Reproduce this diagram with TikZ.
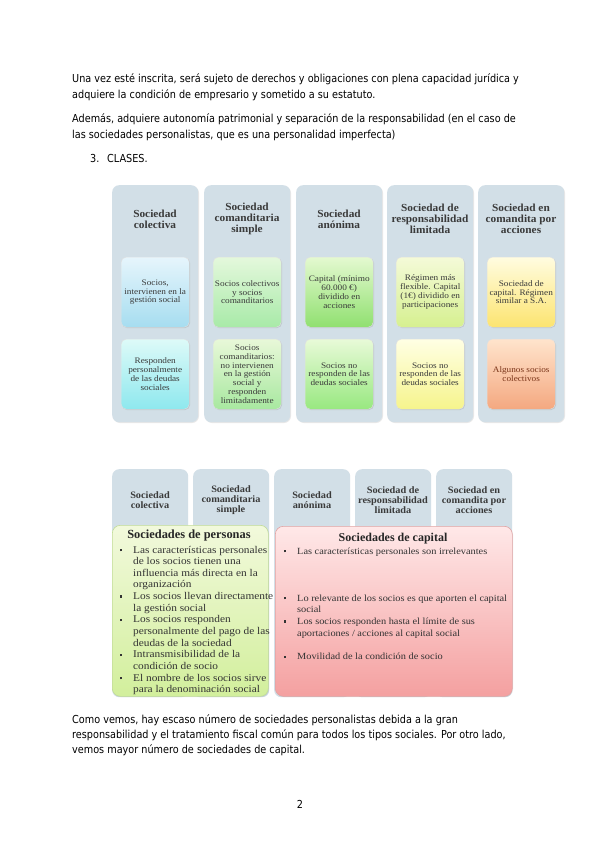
\documentclass[tikz,border=0pt]{standalone}
\usepackage{fontspec}
\setmainfont{Liberation Serif}
\newfontfamily\bodyfont[FakeStretch=0.88]{DejaVu Sans}
\newfontfamily\dserif[FakeStretch=1.1]{Liberation Serif}
\newfontfamily\hserif[FakeStretch=1.05]{Liberation Serif}
\usetikzlibrary{shadows}
\definecolor{colbg}{HTML}{D2DFE7}
\definecolor{txt}{HTML}{3A3A3A}
\definecolor{c1at}{HTML}{E6F5FC}\definecolor{c1ab}{HTML}{A6DDF0}
\definecolor{c1bt}{HTML}{DDFAF8}\definecolor{c1bb}{HTML}{8EE8EE}
\definecolor{c2at}{HTML}{E4F8DC}\definecolor{c2ab}{HTML}{A8EAA8}
\definecolor{c2bt}{HTML}{E8F8D8}\definecolor{c2bb}{HTML}{A8E8A0}
\definecolor{c3at}{HTML}{E4F9D0}\definecolor{c3ab}{HTML}{90E070}
\definecolor{c3bt}{HTML}{E8FAD8}\definecolor{c3bb}{HTML}{98E880}
\definecolor{c4at}{HTML}{F4FAD8}\definecolor{c4ab}{HTML}{D6F090}
\definecolor{c4bt}{HTML}{FFFFE4}\definecolor{c4bb}{HTML}{F6F48C}
\definecolor{c5at}{HTML}{FFFCE0}\definecolor{c5ab}{HTML}{FCE470}
\definecolor{c5bt}{HTML}{FFE4CC}\definecolor{c5bb}{HTML}{F4A880}
\definecolor{brn}{HTML}{7A3418}
\definecolor{grt}{HTML}{F2F9DC}\definecolor{grb}{HTML}{D2EF9C}\definecolor{grd}{HTML}{C2DC98}
\definecolor{rdt}{HTML}{FFE8E8}\definecolor{rdb}{HTML}{F4A0A0}\definecolor{rdd}{HTML}{E0A4A4}
\newcommand{\bul}{\makebox[0pt][r]{\raisebox{1.7pt}{\rule{2.5pt}{2.5pt}}\hspace{11pt}}}
\begin{document}
\begin{tikzpicture}[x=1pt,y=-1pt,
  body/.style={font=\bodyfont\fontsize{11}{16}\selectfont, anchor=base west, inner sep=0pt, text=black},
  colbox/.style={fill=colbg, rounded corners=7pt, anchor=north west, minimum width=86pt, minimum height=237pt, inner sep=0pt,
    drop shadow={opacity=0.18, shadow xshift=0.8pt, shadow yshift=-0.8pt}},
  colboxb/.style={fill=colbg, rounded corners=7pt, anchor=north west, minimum width=76pt, minimum height=228pt, inner sep=0pt},
  hdr/.style={font=\hserif\bfseries\fontsize{10.8}{10.8}\selectfont, align=center, text=txt, inner sep=0pt},
  hdrb/.style={font=\hserif\bfseries\fontsize{9.8}{10}\selectfont, align=center, text=txt, inner sep=0pt},
  ibox/.style={rounded corners=5pt, anchor=north west, minimum width=68pt, minimum height=70pt, inner sep=1pt,
    draw=black!12, line width=0.4pt, align=center, text=txt, font=\dserif\fontsize{8.4}{8.9}\selectfont,
    drop shadow={opacity=0.25, shadow xshift=0.8pt, shadow yshift=-0.8pt}},
  bigbox/.style={rounded corners=8pt, anchor=north west, inner sep=0pt, line width=0.6pt,
    drop shadow={opacity=0.15, shadow xshift=0.8pt, shadow yshift=-0.8pt}},
  ttl/.style={font=\bfseries\fontsize{12.4}{13}\selectfont, anchor=base, inner sep=0pt, text=black!85},
  lst/.style={anchor=base west, inner sep=0pt, text=black!80}
]
\useasboundingbox (0,0) rectangle (600,848);
\fill[white] (0,0) rectangle (600,848);

% body text
\node[body] (p1a) at (72,83) {Una vez esté inscrita, será sujeto de derechos y obligaciones con plena capacidad jurídica y};
\node[body] (p1b) at (72,99) {adquiere la condición de empresario y sometido a su estatuto.};
\node[body] (p2a) at (72,123) {Además, adquiere autonomía patrimonial y separación de la responsabilidad (en el caso de};
\node[body] (p2b) at (72,139) {las sociedades personalistas, que es una personalidad imperfecta)};
\node[body] (n3) at (90,162) {3.};
\node[body] (cl) at (107,162) {CLASES.};

% top diagram columns
\foreach \i/\x in {1/112,2/204,3/296,4/387,5/478}{
  \node[colbox] (k\i) at (\x,185) {};
}
\node[hdr] (h1) at (155,219) {Sociedad\\colectiva};
\node[hdr] (h2) at (247,219) {Sociedad\\comanditaria\\simple};
\node[hdr] (h3) at (339,219) {Sociedad\\anónima};
\node[hdr] (h4) at (430,219) {Sociedad de\\responsabilidad\\limitada};
\node[hdr] (h5) at (521,219) {Sociedad en\\comandita por\\acciones};

\node[ibox, top color=c1at, bottom color=c1ab] (b1a) at (121,257) {Socios,\\intervienen en la\\gestión social};
\node[ibox, top color=c1bt, bottom color=c1bb] (b1b) at (121,339) {Responden\\personalmente\\de las deudas\\sociales};
\node[ibox, top color=c2at, bottom color=c2ab] (b2a) at (213,257) {Socios colectivos\\y socios\\comanditarios};
\node[ibox, top color=c2bt, bottom color=c2bb] (b2b) at (213,339) {Socios\\comanditarios:\\no intervienen\\en la gestión\\social y\\responden\\limitadamente};
\node[ibox, top color=c3at, bottom color=c3ab] (b3a) at (305,257) {Capital (mínimo\\60.000 €)\\dividido en\\acciones};
\node[ibox, top color=c3bt, bottom color=c3bb] (b3b) at (305,339) {Socios no\\responden de las\\deudas sociales};
\node[ibox, top color=c4at, bottom color=c4ab] (b4a) at (396,257) {Régimen más\\flexible. Capital\\(1€)  dividido en\\participaciones};
\node[ibox, top color=c4bt, bottom color=c4bb] (b4b) at (396,339) {Socios no\\responden de las\\deudas sociales};
\node[ibox, top color=c5at, bottom color=c5ab] (b5a) at (487,257) {Sociedad de\\capital. Régimen\\similar a S.A.};
\node[ibox, top color=c5bt, bottom color=c5bb, text=brn] (b5b) at (487,339) {Algunos socios\\colectivos};

% second diagram
\foreach \i/\x in {1/112,2/193,3/274,4/355,5/436}{
  \node[colboxb] (m\i) at (\x,469) {};
}
\node[hdrb] (g1) at (150,500) {Sociedad\\colectiva};
\node[hdrb] (g2) at (231,500) {Sociedad\\comanditaria\\simple};
\node[hdrb] (g3) at (312,500) {Sociedad\\anónima};
\node[hdrb] (g4) at (393,500) {Sociedad de\\responsabilidad\\limitada};
\node[hdrb] (g5) at (474,500) {Sociedad en\\comandita por\\acciones};

\node[bigbox, top color=grt, bottom color=grb, draw=grd, minimum width=156pt, minimum height=171pt] (gp) at (112,525) {};
\node[bigbox, top color=rdt, bottom color=rdb, draw=rdd, minimum width=237pt, minimum height=170pt] (rc) at (275,526) {};

\node[ttl] (tgp) at (189,538) {Sociedades de personas};
\node[ttl, font=\bfseries\fontsize{12}{13}\selectfont] (trc) at (393,541) {Sociedades de capital};

\node[lst] (lgp) at (133,553) {\parbox[t]{140pt}{\dserif\fontsize{10.3}{11.65}\selectfont\raggedright
\bul Las características personales\\
de los socios tienen una\\
influencia más directa en la\\
organización\\
\bul Los socios llevan directamente\\
la gestión social\\
\bul Los socios responden\\
personalmente del pago de las\\
deudas de la sociedad\\
\bul Intransmisibilidad de la\\
condición de socio\\
\bul El nombre de los socios sirve\\
para la denominación social}};

\node[lst] (lrc) at (297,554) {\parbox[t]{212pt}{\dserif\fontsize{9.4}{11.75}\selectfont\raggedright
\bul Las características personales son irrelevantes\\[35.25pt]
\bul Lo relevante de los socios es que aporten el capital\\
social\\
\bul Los socios responden hasta el límite de sus\\
aportaciones / acciones al capital social\\[11.75pt]
\bul Movilidad de la condición de socio}};

% bottom text
\node[body] (q1) at (72,723) {Como vemos, hay escaso número de sociedades personalistas debida a la gran};
\node[body] (q2) at (72,738) {responsabilidad y el tratamiento fiscal común para todos los tipos sociales. Por otro lado,};
\node[body] (q3) at (72,753) {vemos mayor número de sociedades de capital.};
\node[body, anchor=base] (pg) at (300,808) {2};
\end{tikzpicture}
\end{document}
